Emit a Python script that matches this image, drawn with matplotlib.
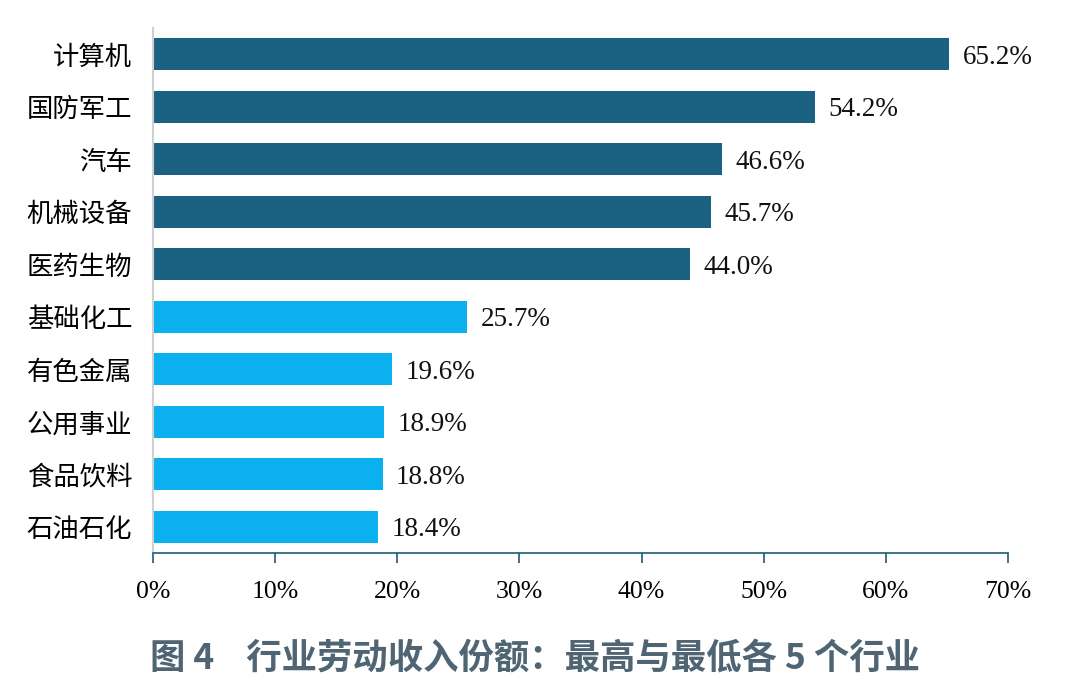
import matplotlib.pyplot as plt
from matplotlib.ticker import FuncFormatter

plt.rcParams['font.family'] = ['Liberation Serif', 'Noto Sans CJK SC', 'DejaVu Sans']

industries = ['计算机', '国防军工', '汽车', '机械设备', '医药生物',
              '基础化工', '有色金属', '公用事业', '食品饮料', '石油石化']
shares = [65.2, 54.2, 46.6, 45.7, 44.0, 25.7, 19.6, 18.9, 18.8, 18.4]
group = ['high'] * 5 + ['low'] * 5

colors = {'high': '#1b6282', 'low': '#0bb0ee'}

fig = plt.figure(figsize=(10.8, 6.99), dpi=100)
ax = fig.add_axes([0.1417, 0.2089, 0.7916, 0.7511])

ypos = list(range(len(industries)))
ax.barh(ypos, shares, height=0.61, color=[colors[g] for g in group])
ax.set_ylim(len(industries) - 0.5, -0.5)
ax.set_xlim(0, 70)
ax.set_xticks(range(0, 71, 10))
ax.xaxis.set_major_formatter(FuncFormatter(lambda v, p: f'{v:.0f}%'))

# 数值标签
for y, v in zip(ypos, shares):
    ax.text(v + 1.1, y + 0.06, f'{v:.1f}%', va='center', ha='left', fontsize=19.5,
            family='Liberation Serif', color='#111111')

ax.set_yticks(ypos)
ax.set_yticklabels(industries, fontsize=19, family=['Noto Sans CJK SC'])
ax.tick_params(axis='y', length=0, pad=15)
ax.tick_params(axis='x', direction='out', length=7, width=1.2, color='#1b5a7a',
               labelsize=18.5, pad=13)

for s in ['top', 'right']:
    ax.spines[s].set_visible(False)
ax.spines['left'].set_color('#d0d0d0')
ax.spines['left'].set_linewidth(1.5)
ax.spines['bottom'].set_color('#1b5a7a')
ax.spines['bottom'].set_linewidth(1.2)

fig.text(0.495, 0.058, '图 4    行业劳动收入份额：最高与最低各 5 个行业', ha='center', va='center',
         fontsize=25.5, fontweight='bold', color='#4f6573',
         family=['Noto Sans CJK SC', 'DejaVu Sans'])

fig.savefig('out.png', dpi=100)
